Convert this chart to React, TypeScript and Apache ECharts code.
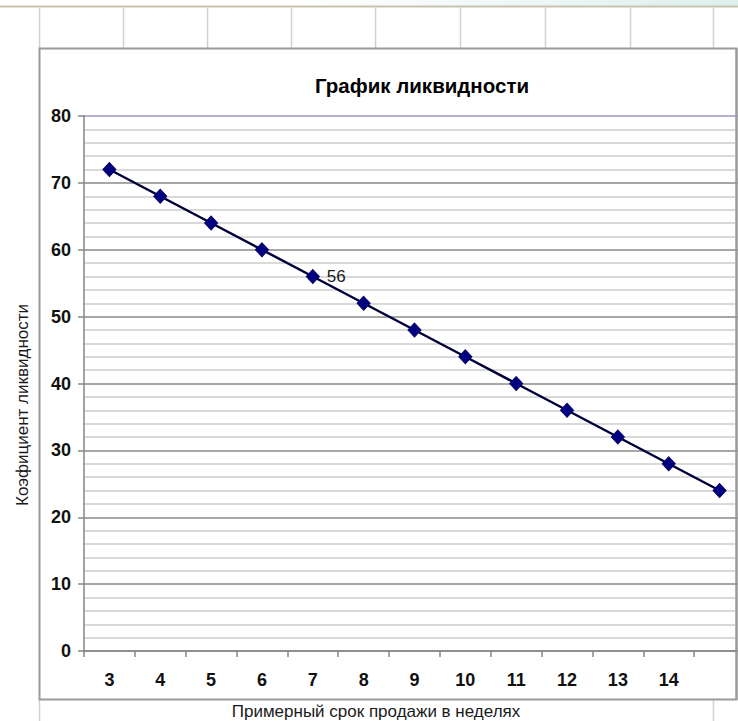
import React, { useEffect, useRef } from "react";
import * as echarts from "echarts";

const categories = ["3", "4", "5", "6", "7", "8", "9", "10", "11", "12", "13", "14", ""];
const liquidity = [72, 68, 64, 60, 56, 52, 48, 44, 40, 36, 32, 28, 24];
const labeledIndex = 4;
const titleText = "График ликвидности";
const yTitle = "Коэфициент ликвидности";
const xTitle = "Примерный срок продажи в неделях";
const sheetColumns = [39, 123, 207, 291, 375, 460, 545, 630, 713];

const FONT = "Liberation Sans, Arial, sans-serif";

export default function App() {
  const ref = useRef<HTMLDivElement>(null);
  useEffect(() => {
    if (!ref.current) return;
    const chart = echarts.init(ref.current, null, { renderer: "svg" });
    const majorColors = ["#8a8a8a", "#8a8a8a", "#8a8a8a", "#8a8a8a", "#8a8a8a", "#8a8a8a", "#8a8a8a", "#8a8a8a", "#9898c8"];
    const graphics: any[] = [
      {
        type: "rect",
        z: -20,
        shape: { x: 300, y: 0, width: 445, height: 6 },
        style: {
          fill: new echarts.graphic.LinearGradient(0, 0, 1, 0, [
            { offset: 0, color: "#ffffff" },
            { offset: 1, color: "#dcefee" },
          ]),
        },
        silent: true,
      },
      {
        type: "line",
        z: -19,
        shape: { x1: 0, y1: 6.5, x2: 745, y2: 6.5 },
        style: { stroke: "#c9c3ad", lineWidth: 2 },
        silent: true,
      },
      ...sheetColumns.map((x) => ({
        type: "line",
        z: -19,
        shape: { x1: x + 0.5, y1: 7, x2: x + 0.5, y2: 48 },
        style: { stroke: "#d2d2d2", lineWidth: 1.5 },
        silent: true,
      })),
      ...[39, 713].map((x) => ({
        type: "line",
        z: -19,
        shape: { x1: x + 0.5, y1: 700, x2: x + 0.5, y2: 721 },
        style: { stroke: "#d2d2d2", lineWidth: 1.5 },
        silent: true,
      })),
      {
        type: "rect",
        z: -10,
        shape: { x: 39.5, y: 48.5, width: 697, height: 651 },
        style: { fill: "#ffffff", stroke: "#9a9a9a", lineWidth: 2 },
        silent: true,
      },
      {
        type: "line",
        z: 100,
        shape: { x1: 736.5, y1: 48, x2: 736.5, y2: 700 },
        style: { stroke: "#9a9a9a", lineWidth: 2 },
        silent: true,
      },
      {
        type: "text",
        z: 100,
        x: 22,
        y: 405,
        rotation: Math.PI / 2,
        style: {
          text: yTitle,
          font: `17px ${FONT}`,
          fill: "#1a1a1a",
          align: "center",
          verticalAlign: "middle",
        },
      },
      {
        type: "text",
        z: 100,
        x: 376,
        y: 711,
        style: {
          text: xTitle,
          font: `17px ${FONT}`,
          fill: "#1a1a1a",
          align: "center",
          verticalAlign: "middle",
        },
      },
    ];

    chart.setOption({
      animation: false,
      backgroundColor: "transparent",
      title: {
        text: titleText,
        left: 422,
        top: 75,
        padding: 0,
        textAlign: "center",
        textStyle: { fontFamily: FONT, fontWeight: "bold", fontSize: 20.5, color: "#000" },
      },
      graphic: graphics,
      grid: { left: 84, right: 0, top: 116, bottom: 70, containLabel: false },
      xAxis: {
        type: "category",
        data: categories,
        boundaryGap: true,
        axisLine: { show: true, lineStyle: { color: "#868686", width: 1.5 } },
        axisTick: { show: true, interval: 0, length: 6, lineStyle: { color: "#868686", width: 1.5 } },
        axisLabel: {
          interval: 0,
          margin: 20,
          fontFamily: FONT,
          fontWeight: "bold",
          fontSize: 18,
          color: "#111",
        },
        splitLine: { show: false },
      },
      yAxis: {
        type: "value",
        min: 0,
        max: 80,
        interval: 10,
        axisLine: { show: true, lineStyle: { color: "#868686", width: 1.5 } },
        axisTick: { show: true, length: 6, lineStyle: { color: "#868686", width: 1.5 } },
        axisLabel: {
          margin: 13,
          fontFamily: FONT,
          fontWeight: "bold",
          fontSize: 18,
          color: "#111",
        },
        splitLine: { show: true, lineStyle: { color: majorColors, width: 1.5 } },
        minorTick: { show: false, splitNumber: 5 },
        minorSplitLine: { show: true, lineStyle: { color: "#cdcdcd", width: 1.5 } },
      },
      series: [
        {
          type: "line",
          data: liquidity.map((v, i) =>
            i === labeledIndex
              ? {
                  value: v,
                  label: {
                    show: true,
                    position: "right",
                    distance: 7,
                    fontFamily: FONT,
                    fontSize: 17,
                    color: "#1a1a1a",
                  },
                }
              : v
          ),
          symbol: "diamond",
          symbolSize: [13, 14],
          lineStyle: { color: "#00003a", width: 2.5 },
          itemStyle: { color: "#000080", borderColor: "#000060", borderWidth: 1 },
          label: { show: false },
          z: 5,
        },
      ],
    });
    return () => chart.dispose();
  }, []);
  return (
    <div
      style={{
        position: "fixed",
        left: 0,
        top: 0,
        width: 738,
        height: 721,
        overflow: "hidden",
        background: "#fff",
      }}
    >
      <div ref={ref} style={{ width: 745, height: 721 }} />
    </div>
  );
}
